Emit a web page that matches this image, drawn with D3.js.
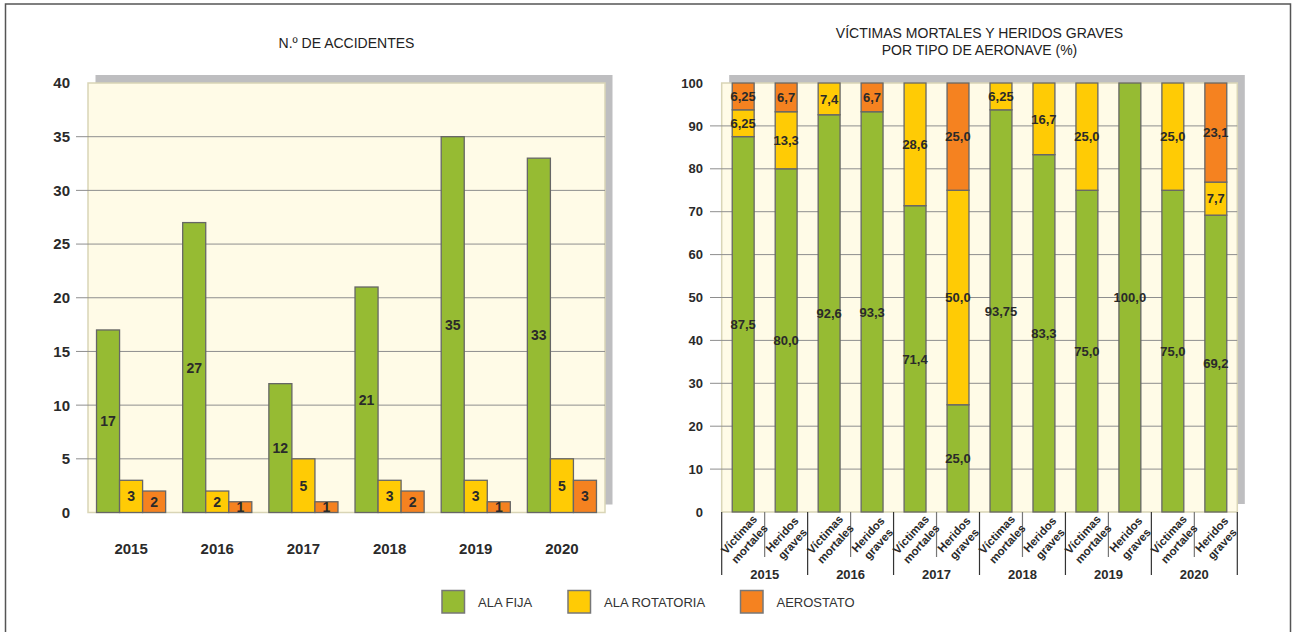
<!DOCTYPE html>
<html>
<head>
<meta charset="utf-8">
<script src="https://cdn.jsdelivr.net/npm/d3@7"></script>
<style>
  body { margin: 0; background: #fff; }
  svg { display: block; font-family: "Liberation Sans", Arial, sans-serif; }
  .narrow { font-family: "Liberation Sans Narrow", "Arial Narrow", "Liberation Sans", sans-serif; }
</style>
</head>
<body>
<svg id="chart" width="1294" height="632"></svg>
<script>
const years = ['2015', '2016', '2017', '2018', '2019', '2020'];
const series = ['ALA FIJA', 'ALA ROTATORIA', 'AEROSTATO'];
const colors = ['#96bb33', '#ffcb05', '#f58220'];

// n.º de accidentes
const alaFija = [17, 27, 12, 21, 35, 33];
const alaRotatoria = [3, 2, 5, 3, 3, 5];
const aerostato = [2, 1, 1, 2, 1, 3];
const accTicks = [0, 5, 10, 15, 20, 25, 30, 35, 40];

// víctimas (%) — por año: víctimas mortales, heridos graves
const victimTypes = [['Víctimas', 'mortales'], ['Heridos', 'graves']];
const pctAlaFija = [87.5, 80.0, 92.6, 93.3, 71.4, 25.0, 93.75, 83.3, 75.0, 100.0, 75.0, 69.2];
const pctAlaRotatoria = [6.25, 13.3, 7.4, 0, 28.6, 50.0, 6.25, 16.7, 25.0, 0, 25.0, 7.7];
const pctAerostato = [6.25, 6.7, 0, 6.7, 0, 25.0, 0, 0, 0, 0, 0, 23.1];
const pctTicks = [0, 10, 20, 30, 40, 50, 60, 70, 80, 90, 100];

const svg = d3.select('#chart');
const es = d3.formatLocale({ decimal: ',', thousands: '.', grouping: [3], currency: ['', ''] });
const f1 = es.format('.1f');
const f2 = es.format('.2f');
const fmtPct = (v) => (Math.abs(Math.round(v * 10) - v * 10) < 1e-6 ? f1(v) : f2(v));

// outer frame
svg.append('rect')
  .attr('x', 5.5).attr('y', 4).attr('width', 1285).attr('height', 660)
  .attr('fill', 'none').attr('stroke', '#555').attr('stroke-width', 1.5);

function plotFrame(left, right, top, bottom) {
  svg.append('rect')
    .attr('x', left + 7.5).attr('y', top - 8)
    .attr('width', right - left).attr('height', bottom - top)
    .attr('fill', '#bebec0');
  svg.append('rect')
    .attr('x', left).attr('y', top)
    .attr('width', right - left).attr('height', bottom - top)
    .attr('fill', '#fffbe7').attr('stroke', '#d9d5b6').attr('stroke-width', 1.5);
}

// ---------- left chart ----------
{
  const L = 88, R = 605, T = 83, B = 512.5;
  plotFrame(L, R, T, B);

  const y = d3.scaleLinear().domain([0, 40]).range([B, T]);
  const x0 = d3.scaleBand().domain(years).range([L, R]);
  const x1 = d3.scaleBand().domain(series).range([0, x0.bandwidth()]).paddingOuter(0.37);

  svg.append('g').selectAll('line')
    .data(accTicks.filter((t) => t > 0 && t < 40))
    .join('line')
    .attr('x1', 76).attr('x2', R)
    .attr('y1', (d) => y(d)).attr('y2', (d) => y(d))
    .attr('stroke', '#8e8e8e').attr('stroke-width', 1);

  svg.append('g').selectAll('text')
    .data(accTicks)
    .join('text')
    .attr('x', 70).attr('y', (d) => y(d))
    .attr('dy', '0.36em')
    .attr('text-anchor', 'end')
    .attr('font-size', 15).attr('font-weight', 'bold').attr('fill', '#2a2a2a')
    .text((d) => d);

  const rows = years.map((yr, i) => [alaFija[i], alaRotatoria[i], aerostato[i]]
    .map((v, j) => ({ year: yr, s: series[j], v, j })));

  const groups = svg.append('g').selectAll('g')
    .data(rows)
    .join('g')
    .attr('transform', (d) => `translate(${x0(d[0].year)},0)`);

  groups.selectAll('rect')
    .data((d) => d)
    .join('rect')
    .attr('x', (d) => x1(d.s)).attr('width', x1.bandwidth())
    .attr('y', (d) => y(d.v)).attr('height', (d) => y(0) - y(d.v))
    .attr('fill', (d) => colors[d.j])
    .attr('stroke', '#666').attr('stroke-width', 1.3);

  groups.selectAll('text')
    .data((d) => d)
    .join('text')
    .attr('class', 'narrow')
    .attr('x', (d) => x1(d.s) + x1.bandwidth() / 2)
    .attr('y', (d) => (y(d.v) + y(0)) / 2)
    .attr('dy', '0.36em')
    .attr('text-anchor', 'middle')
    .attr('font-size', 14).attr('font-weight', 'bold').attr('fill', '#2a2a2a')
    .text((d) => d.v);

  svg.append('g').selectAll('text')
    .data(years)
    .join('text')
    .attr('x', (d) => x0(d) + x0.bandwidth() / 2).attr('y', 549)
    .attr('dy', '0.36em')
    .attr('text-anchor', 'middle')
    .attr('font-size', 15).attr('font-weight', 'bold').attr('fill', '#2a2a2a')
    .text((d) => d);

  svg.append('text')
    .attr('x', (L + R) / 2).attr('y', 48)
    .attr('text-anchor', 'middle')
    .attr('font-size', 14).attr('fill', '#222')
    .text('N.º DE ACCIDENTES');
}

// ---------- right chart ----------
{
  const L = 721.7, R = 1237.3, T = 83, B = 512;
  plotFrame(L, R, T, B);

  const cats = [];
  years.forEach((yr) => victimTypes.forEach((vt, k) => cats.push({ id: `${yr}-${k}`, year: yr, lines: vt })));
  const table = cats.map((c, i) => ({
    id: c.id, 'ALA FIJA': pctAlaFija[i], 'ALA ROTATORIA': pctAlaRotatoria[i], AEROSTATO: pctAerostato[i],
  }));
  const stacked = d3.stack().keys(series)(table);

  const y = d3.scaleLinear().domain([0, 100]).range([B, T]);
  const x = d3.scaleBand().domain(cats.map((c) => c.id)).range([L, R])
    .paddingInner(0.49).paddingOuter(0.245);
  const step = x.step();

  svg.append('g').selectAll('line')
    .data(pctTicks.filter((t) => t > 0 && t < 100))
    .join('line')
    .attr('x1', 710).attr('x2', R)
    .attr('y1', (d) => y(d)).attr('y2', (d) => y(d))
    .attr('stroke', '#8e8e8e').attr('stroke-width', 1);

  svg.append('g').selectAll('text')
    .data(pctTicks)
    .join('text')
    .attr('x', 703).attr('y', (d) => y(d))
    .attr('dy', '0.36em')
    .attr('text-anchor', 'end')
    .attr('font-size', 13).attr('font-weight', 'bold').attr('fill', '#2a2a2a')
    .text((d) => d);

  const layers = svg.append('g').selectAll('g')
    .data(stacked)
    .join('g')
    .attr('fill', (d, i) => colors[i]);

  layers.selectAll('rect')
    .data((d) => d.filter((p) => p[1] - p[0] > 0))
    .join('rect')
    .attr('x', (d) => x(d.data.id)).attr('width', x.bandwidth())
    .attr('y', (d) => y(d[1])).attr('height', (d) => y(d[0]) - y(d[1]))
    .attr('stroke', '#666').attr('stroke-width', 1.3);

  layers.selectAll('text')
    .data((d) => d.filter((p) => p[1] - p[0] > 0))
    .join('text')
    .attr('x', (d) => x(d.data.id) + x.bandwidth() / 2)
    .attr('y', (d) => y((d[0] + d[1]) / 2))
    .attr('dy', '0.36em')
    .attr('text-anchor', 'middle')
    .attr('font-size', 13).attr('font-weight', 'bold').attr('fill', '#2a2a2a')
    .text((d) => fmtPct(d[1] - d[0]));

  // category separators
  const seps = d3.range(cats.length + 1);
  svg.append('g').selectAll('line')
    .data(seps)
    .join('line')
    .attr('x1', (d) => L + d * step).attr('x2', (d) => L + d * step)
    .attr('y1', B).attr('y2', (d) => (d % 2 === 0 ? 575 : 557))
    .attr('stroke', (d) => (d % 2 === 0 ? '#333' : '#777'))
    .attr('stroke-width', 1.2);

  const catLabels = svg.append('g').selectAll('g')
    .data(cats)
    .join('g')
    .attr('transform', (d) => `translate(${x(d.id) + x.bandwidth() / 2 + 1},539) rotate(-48)`);
  catLabels.selectAll('text')
    .data((d) => d.lines)
    .join('text')
    .attr('class', 'narrow')
    .attr('y', (d, i) => (i === 0 ? -7 : 7))
    .attr('dy', '0.36em')
    .attr('text-anchor', 'middle')
    .attr('font-size', 11.5).attr('font-weight', 'bold').attr('fill', '#2a2a2a')
    .text((d) => d);

  svg.append('g').selectAll('text')
    .data(years)
    .join('text')
    .attr('class', 'narrow')
    .attr('x', (d, i) => L + (2 * i + 1) * step).attr('y', 574)
    .attr('dy', '0.36em')
    .attr('text-anchor', 'middle')
    .attr('font-size', 13).attr('font-weight', 'bold').attr('fill', '#2a2a2a')
    .text((d) => d);

  const title = svg.append('text')
    .attr('x', (L + R) / 2).attr('y', 38)
    .attr('text-anchor', 'middle')
    .attr('font-size', 14).attr('fill', '#222');
  title.append('tspan').attr('x', (L + R) / 2).text('VÍCTIMAS MORTALES Y HERIDOS GRAVES');
  title.append('tspan').attr('x', (L + R) / 2).attr('dy', 17).text('POR TIPO DE AERONAVE (%)');
}

// ---------- legend ----------
{
  const legendX = [442, 568, 740.5];
  const item = svg.append('g').selectAll('g')
    .data(series)
    .join('g')
    .attr('transform', (d, i) => `translate(${legendX[i]},590.5)`);
  item.append('rect')
    .attr('width', 22.5).attr('height', 22.5)
    .attr('fill', (d, i) => colors[i])
    .attr('stroke', '#777').attr('stroke-width', 1.5);
  item.append('text')
    .attr('x', 36).attr('y', 11.5)
    .attr('dy', '0.36em')
    .attr('font-size', 13).attr('fill', '#333')
    .text((d) => d);
}
</script>
</body>
</html>
